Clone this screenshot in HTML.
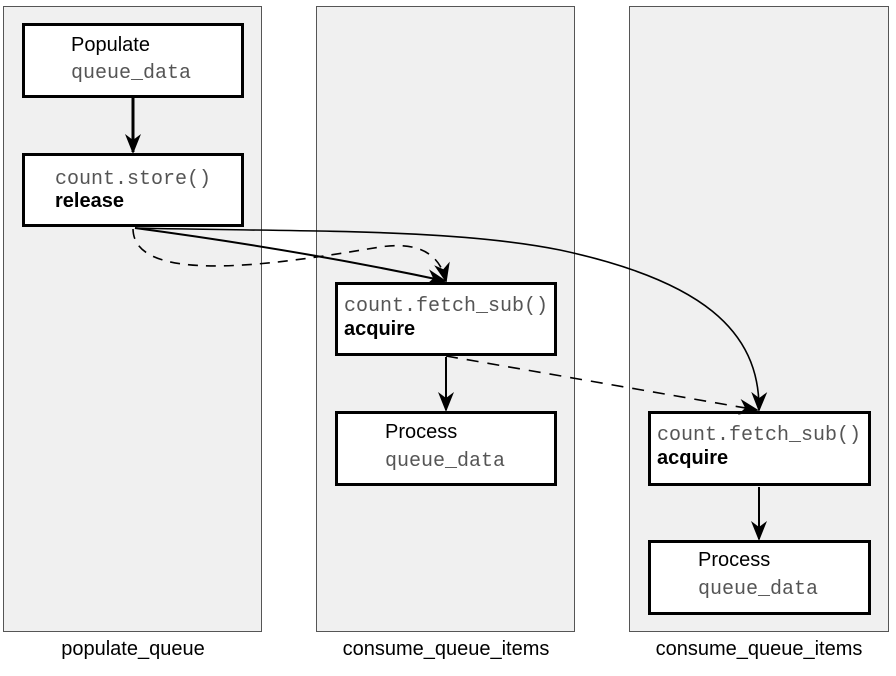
<!DOCTYPE html>
<html><head><style>
body{margin:0;width:896px;height:676px;background:#fff;position:relative;overflow:hidden;font-family:"Liberation Sans",sans-serif}
.lane{position:absolute;top:6px;height:626px;background:#f0f0f0;border:1px solid #555;box-sizing:border-box}
.box{position:absolute;background:#fff;border:3px solid #000;box-sizing:border-box}
.t{position:absolute;white-space:nowrap;line-height:1}
.s{font-size:20px;color:#000}
.m{font-family:"Liberation Mono",monospace;font-size:20px;color:#555}
.b{font-weight:bold;font-size:20px}
.lbl{position:absolute;top:639px;font-size:20px;text-align:center;width:300px;line-height:1}
</style></head><body>
<div class="lane" style="left:3px;width:259px"></div>
<div class="lane" style="left:316px;width:259px"></div>
<div class="lane" style="left:629px;width:260px"></div>

<div class="box" style="left:22px;top:23px;width:222px;height:75px"></div>
<div class="t s" style="left:71px;top:35px">Populate</div>
<div class="t m" style="left:71px;top:64px">queue_data</div>

<div class="box" style="left:22px;top:153px;width:222px;height:74px"></div>
<div class="t m" style="left:55px;top:170px">count.store()</div>
<div class="t b" style="left:55px;top:191px">release</div>

<div class="box" style="left:335px;top:282px;width:222px;height:74px"></div>
<div class="t m" style="left:344px;top:297px">count.fetch_sub()</div>
<div class="t b" style="left:344px;top:319px">acquire</div>

<div class="box" style="left:335px;top:411px;width:222px;height:75px"></div>
<div class="t s" style="left:385px;top:422px">Process</div>
<div class="t m" style="left:385px;top:452px">queue_data</div>

<div class="box" style="left:648px;top:411px;width:223px;height:75px"></div>
<div class="t m" style="left:657px;top:426px">count.fetch_sub()</div>
<div class="t b" style="left:657px;top:448px">acquire</div>

<div class="box" style="left:648px;top:540px;width:223px;height:75px"></div>
<div class="t s" style="left:698px;top:550px">Process</div>
<div class="t m" style="left:698px;top:580px">queue_data</div>

<div class="lbl" style="left:-17px">populate_queue</div>
<div class="lbl" style="left:296px">consume_queue_items</div>
<div class="lbl" style="left:609px">consume_queue_items</div>

<svg width="896" height="676" style="position:absolute;left:0;top:0">
<defs><marker id="a" viewBox="0 0 20 20" refX="18" refY="10" markerWidth="20" markerHeight="20" markerUnits="userSpaceOnUse" orient="auto">
<path d="M0,2 L20,10 L0,18 L6,10 Z" fill="#000"/></marker></defs>
<g fill="none" stroke="#000">
<path d="M133 98 V152" stroke-width="3" marker-end="url(#a)"/>
<path d="M446 357 V410" stroke-width="2" marker-end="url(#a)"/>
<path d="M759 487 V539" stroke-width="2" marker-end="url(#a)"/>
<path d="M135 228 Q300 250 445 281" stroke-width="2" marker-end="url(#a)"/>
<path d="M135 228 C300 232 450 228 560 250 C700 280 760 330 759 410" stroke-width="1.6" marker-end="url(#a)"/>
<path d="M133 229 C134 290 300 260 380 247 C420 241 440 255 446 281" stroke-width="1.6" stroke-dasharray="10,8" marker-end="url(#a)"/>
<path d="M446 356 L757 410" stroke-width="1.6" stroke-dasharray="12,9" marker-end="url(#a)"/>
</g></svg>
</body></html>
